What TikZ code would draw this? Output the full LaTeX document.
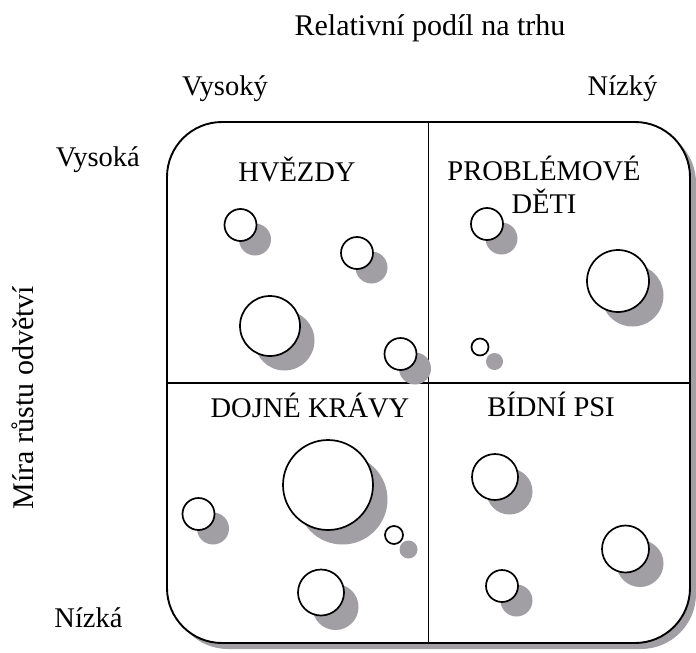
\documentclass[tikz,border=0pt]{standalone}
\usepackage{fontspec}
\setmainfont{Liberation Serif}
\usepackage{tikz}
\definecolor{shadowgray}{RGB}{162, 159, 164}

% x/y/radius of the bubbles
\newcommand{\bubbles}{240.5/225/16, 357/253/16, 270/326/30, 400.5/354/16,
  487/224/16, 618/281/31, 480/347/8.5,
  328/485/45, 198.5/514/16, 394/535/9, 321/592.5/23,
  495/477/23, 625.5/549/23.5, 502/586/16}

\begin{document}
\begin{tikzpicture}[x=1pt, y=-1pt, line width=1.9pt,
    lbl/.style={font=\fontsize{28.5}{33}\selectfont, inner sep=0pt},
    axis/.style={font=\fontsize{30}{34}\selectfont, inner sep=0pt}]
  \useasboundingbox (0,0) rectangle (696,653);

  % frame, its shadow and the four fields
  \fill[shadowgray, rounded corners=55pt] (173,128) rectangle (696,649);
  \draw[fill=white, rounded corners=55pt] (167,122) rectangle (690,643);
  \draw (428.5,122) -- (428.5,643);
  \draw (167,383) -- (690,383);

  \foreach \x/\y/\r in \bubbles {
    \fill[shadowgray] (\x+14.5,\y+14.5) circle (\r);
  }
  \foreach \x/\y/\r in \bubbles {
    \draw[line width=1.7pt, fill=white] (\x,\y) circle (\r);
  }

  \node[lbl, anchor=base] (hvezdy) at (297,181.5) {HVĚZDY};
  \node[lbl, anchor=base] (problem) at (544,180) {PROBLÉMOVÉ};
  \node[lbl, anchor=base] (deti) at (544,213) {DĚTI};
  \node[lbl, anchor=base] (kravy) at (310,417) {DOJNÉ KRÁVY};
  \node[lbl, anchor=base] (psi) at (551,416.5) {BÍDNÍ PSI};

  % axes
  \node[axis, anchor=base] (podil) at (430,35.5) {Relativní podíl na trhu};
  \node[lbl, anchor=base] (vysoky) at (225,95) {Vysoký};
  \node[lbl, anchor=base] (nizky) at (622.5,95.5) {Nízký};
  \node[axis, anchor=base, rotate=90] (rust) at (33,397.5) {Míra růstu odvětví};
  \node[lbl, anchor=base west] (vysoka) at (55,166.5) {Vysoká};
  \node[lbl, anchor=base west] (nizka) at (53.5,627) {Nízká};
\end{tikzpicture}
\end{document}
